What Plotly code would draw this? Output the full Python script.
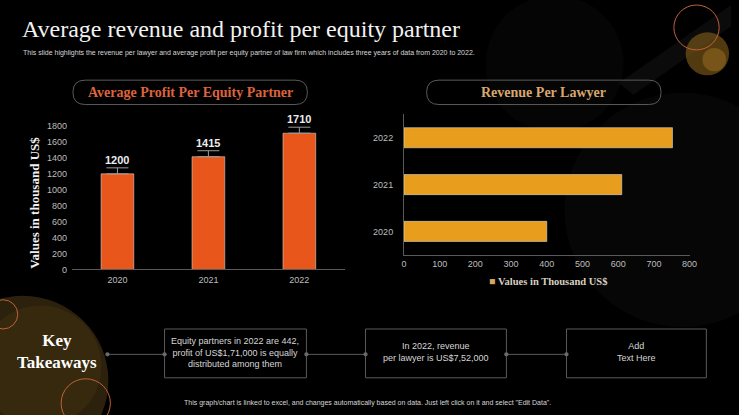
import plotly.graph_objects as go

W, H = 739, 415

years = ["2020", "2021", "2022"]
profit = [1200, 1415, 1710]
revenue = [400, 610, 752]
profit_ticks = list(range(0, 1801, 200))
rev_ticks = list(range(0, 801, 100))

title_text = "Average revenue and profit per equity partner"
subtitle_text = ("This slide highlights the revenue per lawyer and average profit per equity partner "
                 "of law firm which includes three years of data from 2020 to 2022.")
left_title = "Average Profit Per Equity Partner"
right_title = "Revenue Per Lawyer"
legend_name = "Values in Thousand US$"
y_title = "Values in thousand US$"
box_texts = ["Equity partners in 2022 are 442,<br>profit of US$1,71,000 is equally<br>distributed among them",
             "In 2022, revenue<br>per lawyer is US$7,52,000",
             "Add<br>Text Here"]
footer = ('This graph/chart is linked to excel, and changes automatically based on data. '
          'Just left click on it and select "Edit Data".')

SERIF = "Liberation Serif"
SANS = "Liberation Sans"
NARROW = "Liberation Sans Narrow, Liberation Sans"


def px(x):
    return x / W


def py(y):
    return 1 - y / H


def pill(x0, y0, x1, y1, r):
    pts = [
        ("M", x0 + r, y0), ("L", x1 - r, y0), ("Q", x1, y0, x1, y0 + r),
        ("L", x1, y1 - r), ("Q", x1, y1, x1 - r, y1), ("L", x0 + r, y1),
        ("Q", x0, y1, x0, y1 - r), ("L", x0, y0 + r), ("Q", x0, y0, x0 + r, y0),
    ]
    s = ""
    for p in pts:
        if p[0] == "Q":
            s += f"Q{px(p[1]):.5f},{py(p[2]):.5f} {px(p[3]):.5f},{py(p[4]):.5f} "
        else:
            s += f"{p[0]}{px(p[1]):.5f},{py(p[2]):.5f} "
    return s + "Z"


def poly(points):
    s = "M" + " L".join(f"{px(a):.5f},{py(b):.5f}" for a, b in points)
    return s + " Z"


def circle(cx, cy, r, **kw):
    return dict(type="circle", xref="paper", yref="paper",
                x0=px(cx - r), x1=px(cx + r), y0=py(cy + r), y1=py(cy - r), **kw)


fig = go.Figure()

fig.add_trace(go.Bar(
    x=years, y=profit, marker_color="#E8561B", width=0.36,
    error_y=dict(type="data", symmetric=False, array=[75] * 3, arrayminus=[0] * 3,
                 color="#9a9a9a", thickness=1, width=11),
    xaxis="x", yaxis="y", showlegend=False, hoverinfo="skip"))

fig.add_trace(go.Bar(
    y=years, x=revenue, orientation="h", marker_color="#E89D1C", width=0.43,
    name=legend_name, xaxis="x2", yaxis="y2", showlegend=False, hoverinfo="skip"))

shapes = []
# faint smoky background at the right
shapes.append(dict(type="path", xref="paper", yref="paper",
                   path=poly([(625, 80), (739, 0), (739, 22), (640, 92)]),
                   fillcolor="rgba(255,255,255,0.045)", line=dict(width=0), layer="below"))
shapes.append(circle(690, 210, 120, fillcolor="rgba(255,255,255,0.025)", line=dict(width=0), layer="below"))
shapes.append(circle(560, 60, 70, fillcolor="rgba(255,255,255,0.02)", line=dict(width=0), layer="below"))
# background decorations
shapes.append(circle(20, 385, 87, fillcolor="#2c210c", line=dict(width=0), layer="below"))
shapes.append(circle(38, 370, 62, fillcolor="rgba(80,60,20,0.30)", line=dict(width=0), layer="below"))
shapes.append(circle(0, 317, 15, fillcolor="rgba(0,0,0,0)", line=dict(color="#c0603a", width=1)))
shapes.append(circle(84, 408, 25, fillcolor="rgba(0,0,0,0)", line=dict(color="#c0603a", width=1)))
shapes.append(circle(715, 50, 22, fillcolor="rgba(150,105,30,0.55)", line=dict(width=0), layer="below"))
shapes.append(circle(722, 56, 12, fillcolor="rgba(190,135,40,0.35)", line=dict(width=0), layer="below"))
shapes.append(circle(704, 23, 23, fillcolor="rgba(0,0,0,0)", line=dict(color="#c0603a", width=1)))

# title pills
shapes.append(dict(type="path", xref="paper", yref="paper", path=pill(71, 77, 309, 102, 12.5),
                   line=dict(color="#5a5a5a", width=1), fillcolor="rgba(0,0,0,0)"))
shapes.append(dict(type="path", xref="paper", yref="paper", path=pill(430, 77, 668, 102, 12.5),
                   line=dict(color="#5a5a5a", width=1), fillcolor="rgba(0,0,0,0)"))

# takeaway boxes and connectors
boxes = [(164, 308), (368, 511), (572, 714)]
for (bx0, bx1) in boxes:
    shapes.append(dict(type="rect", xref="paper", yref="paper", x0=px(bx0), x1=px(bx1),
                       y0=py(382), y1=py(332), line=dict(color="#5a5a5a", width=1)))
conn = [(106, 164), (308, 368), (511, 572)]
for (c0, c1) in conn:
    shapes.append(dict(type="line", xref="paper", yref="paper", x0=px(c0), x1=px(c1),
                       y0=py(358), y1=py(358), line=dict(color="#5a5a5a", width=1)))
    for c in (c0, c1):
        shapes.append(circle(c, 358, 2.2, fillcolor="#6a6a6a", line=dict(width=0)))

ann = []
ann.append(dict(text=title_text, x=px(17), y=py(25), xref="paper", yref="paper",
                xanchor="left", yanchor="middle", showarrow=False,
                font=dict(family=SERIF, size=24, color="#f2f2f2")))
ann.append(dict(text=subtitle_text, x=px(18), y=py(49), xref="paper", yref="paper",
                xanchor="left", yanchor="middle", showarrow=False,
                font=dict(family=NARROW, size=7, color="#d6d6d6")))
ann.append(dict(text="<b>" + left_title + "</b>", x=px(190), y=py(89.5), xref="paper", yref="paper",
                xanchor="center", yanchor="middle", showarrow=False,
                font=dict(family=SERIF, size=14, color="#DE633C")))
ann.append(dict(text="<b>" + right_title + "</b>", x=px(549), y=py(89.5), xref="paper", yref="paper",
                xanchor="center", yanchor="middle", showarrow=False,
                font=dict(family=SERIF, size=14, color="#D9A66E")))
ann.append(dict(text="<b>" + y_title + "</b>", x=px(32), y=py(203), xref="paper", yref="paper",
                xanchor="center", yanchor="middle", textangle=-90, showarrow=False,
                font=dict(family=SERIF, size=13, color="#f0f0f0")))
for i, v in enumerate(profit):
    ann.append(dict(text="<b>%d</b>" % v, x=i, y=v + 75, xref="x", yref="y",
                    xanchor="center", yanchor="bottom", yshift=0, showarrow=False,
                    font=dict(family=SANS, size=11, color="#ececec")))
ann.append(dict(text='<span style="color:#D2A85E">■</span> <b>' + legend_name + "</b>",
                x=px(491), y=py(283), xref="paper", yref="paper",
                xanchor="left", yanchor="middle", showarrow=False,
                font=dict(family=SERIF, size=10.5, color="#d8d0c0")))
ann.append(dict(text="<b>Key<br>Takeaways</b>", x=px(55), y=py(355), xref="paper", yref="paper",
                xanchor="center", yanchor="middle", showarrow=False,
                font=dict(family=SERIF, size=17, color="#ffffff")))
for (bx0, bx1), t in zip(boxes, box_texts):
    ann.append(dict(text=t, x=px((bx0 + bx1) / 2), y=py(356), xref="paper", yref="paper",
                    xanchor="center", yanchor="middle", showarrow=False,
                    font=dict(family=NARROW, size=9, color="#d6d6d6")))
ann.append(dict(text=footer, x=px(370), y=py(408), xref="paper", yref="paper",
                xanchor="center", yanchor="middle", showarrow=False,
                font=dict(family=NARROW, size=7, color="#d6d6d6")))

tickfont = dict(family=SANS, size=9, color="#bdbdbd")

fig.update_layout(
    width=W, height=H, margin=dict(l=0, r=0, t=0, b=0),
    paper_bgcolor="#000000", plot_bgcolor="rgba(0,0,0,0)",
    shapes=shapes, annotations=ann,
    xaxis=dict(domain=[px(70), px(347)], anchor="y", type="category", range=[-0.5, 2.5],
               showgrid=False, zeroline=False, showline=True, linecolor="#5a5a5a", linewidth=1,
               ticks="", tickfont=tickfont, ticklabelstandoff=2),
    yaxis=dict(domain=[py(271), py(124)], anchor="x", range=[0, 1800], tickvals=profit_ticks,
               showgrid=False, zeroline=False, showline=False, ticks="", tickfont=tickfont,
               ticklabelstandoff=4),
    xaxis2=dict(domain=[px(407), px(697)], anchor="y2", range=[0, 800], tickvals=rev_ticks,
                showgrid=False, zeroline=False, showline=True, linecolor="#5a5a5a", linewidth=1,
                ticks="", tickfont=tickfont),
    yaxis2=dict(domain=[py(256), py(112)], anchor="x2", type="category", showgrid=False,
                zeroline=False, showline=True, linecolor="#5a5a5a", linewidth=1, ticks="",
                tickfont=tickfont, ticklabelstandoff=8),
    showlegend=False,
)

fig.write_html("out.html", post_script="document.body.style.margin='0';document.body.style.background='#000';")
